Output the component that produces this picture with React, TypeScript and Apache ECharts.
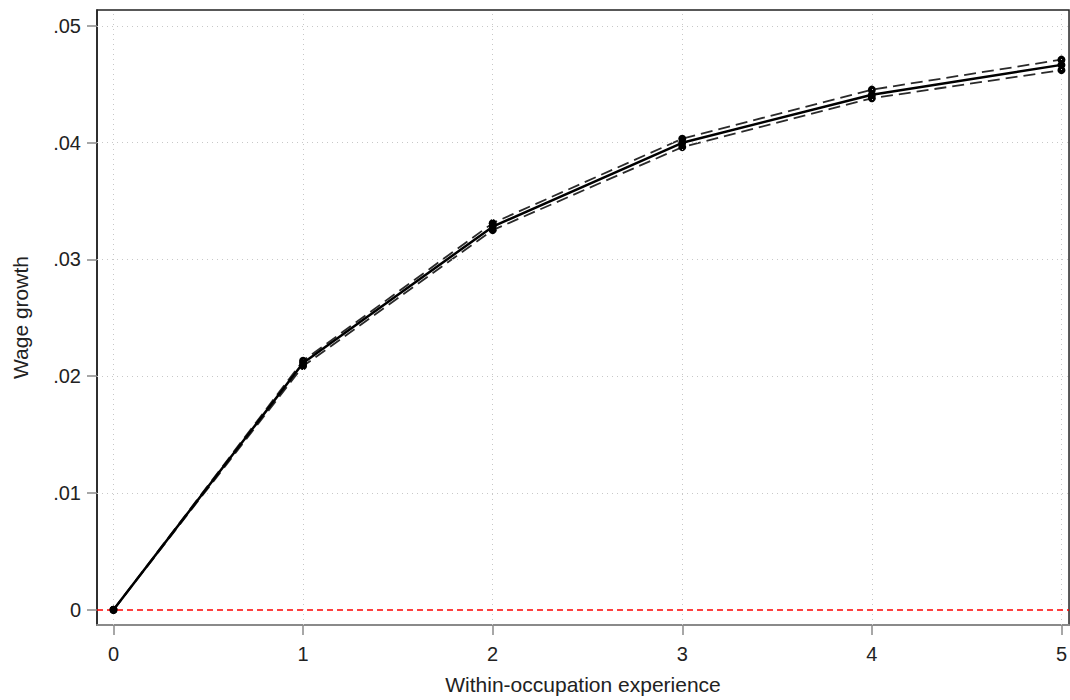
import React, { useEffect, useRef } from "react";
import * as echarts from "echarts";

const experience = [0, 1, 2, 3, 4, 5];
const wageGrowth = [0, 0.02112, 0.0328, 0.03998, 0.0441, 0.04665];
const upperCI = [0, 0.02132, 0.0331, 0.04033, 0.04453, 0.0471];
const lowerCI = [0, 0.02086, 0.0325, 0.03961, 0.04379, 0.0462];
const xTicks = [0, 1, 2, 3, 4, 5];
const yTicks = [0, 0.01, 0.02, 0.03, 0.04, 0.05];

const pairs = (ys: number[]) => experience.map((x, i) => [x, ys[i]]);

export default function App() {
  const ref = useRef<HTMLDivElement>(null);
  useEffect(() => {
    const chart = echarts.init(ref.current!, null, { renderer: "svg" });
    const font = "Liberation Sans, Arial, sans-serif";
    const gridStyle = { color: "#c8c8c8", type: [1, 4] as any, width: 1 };
    chart.setOption({
      animation: false,
      backgroundColor: "#fff",
      grid: {
        left: 97,
        right: 0,
        top: 10,
        bottom: 72,
        show: true,
        borderColor: "#222",
        borderWidth: 1.5,
      },
      xAxis: {
        type: "value",
        min: -0.087,
        max: 5.04,
        name: "Within-occupation experience",
        nameLocation: "middle",
        nameGap: 49,
        nameTextStyle: { fontFamily: font, fontSize: 21, color: "#222" },
        axisLine: { show: true, onZero: false, lineStyle: { color: "#8a8a8a", width: 2 } },
        axisTick: {
          show: true,
          customValues: xTicks,
          length: 10,
          lineStyle: { color: "#8a8a8a", width: 1.5 },
        },
        axisLabel: {
          customValues: xTicks,
          margin: 19,
          fontFamily: font,
          fontSize: 20,
          color: "#222",
          formatter: (v: number) => String(v),
        },
        splitLine: { show: false },
      },
      yAxis: {
        type: "value",
        min: -0.00131,
        max: 0.05135,
        name: "Wage growth",
        nameLocation: "middle",
        nameGap: 66,
        nameTextStyle: { fontFamily: font, fontSize: 21, color: "#222" },
        axisLine: { show: true, onZero: false, lineStyle: { color: "#222", width: 1.5 } },
        axisTick: {
          show: true,
          customValues: yTicks,
          length: 10,
          lineStyle: { color: "#8a8a8a", width: 1.5 },
        },
        axisLabel: {
          customValues: yTicks,
          margin: 16,
          fontFamily: font,
          fontSize: 20,
          color: "#222",
          formatter: (v: number) =>
            Math.abs(v) < 1e-9 ? "0" : v.toFixed(2).replace(/^0/, ""),
        },
        splitLine: { show: false },
      },
      series: [
        {
          type: "line",
          data: [],
          silent: true,
          markLine: {
            silent: true,
            symbol: "none",
            label: { show: false },
            lineStyle: gridStyle,
            data: [
              ...xTicks.map((x) => ({ xAxis: x })),
              ...yTicks.filter((y) => y > 0).map((y) => ({ yAxis: y })),
            ],
          },
        },
        {
          type: "line",
          data: [],
          silent: true,
          z: 3,
          markLine: {
            silent: true,
            symbol: "none",
            label: { show: false },
            lineStyle: { color: "#ff0000", type: [6, 4] as any, width: 1.5 },
            data: [{ yAxis: 0 }],
          },
        },
        {
          type: "line",
          data: pairs(upperCI),
          symbol: "circle",
          symbolSize: 8,
          itemStyle: { color: "#000" },
          lineStyle: { color: "#2a2a2a", width: 1.8, type: [12, 6] as any },
          z: 4,
        },
        {
          type: "line",
          data: pairs(lowerCI),
          symbol: "circle",
          symbolSize: 8,
          itemStyle: { color: "#000" },
          lineStyle: { color: "#2a2a2a", width: 1.8, type: [12, 6] as any },
          z: 4,
        },
        {
          type: "line",
          data: pairs(wageGrowth),
          symbol: "circle",
          symbolSize: 8,
          itemStyle: { color: "#000" },
          lineStyle: { color: "#000", width: 2.5 },
          z: 5,
        },
      ],
    });
    return () => chart.dispose();
  }, []);
  return (
    <div
      ref={ref}
      style={{ position: "absolute", left: 0, top: 0, width: 1070, height: 700 }}
    />
  );
}
